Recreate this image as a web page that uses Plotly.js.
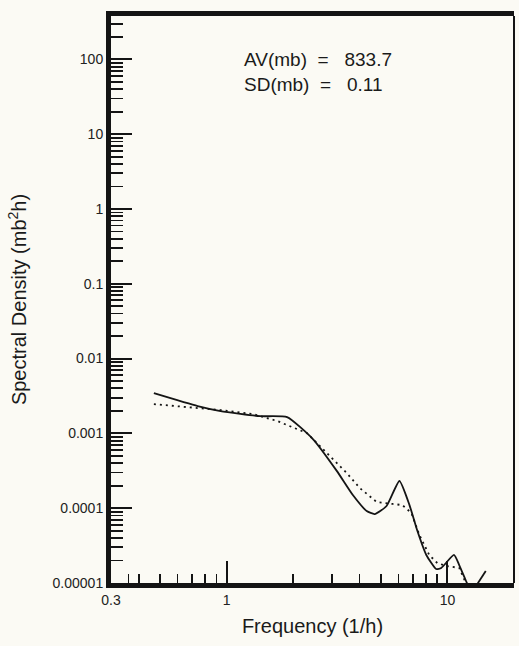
<!DOCTYPE html>
<html>
<head>
<meta charset="utf-8">
<script src="https://cdn.plot.ly/plotly-3.0.1.min.js"></script>
<style>
  html, body { margin: 0; padding: 0; background: #fbfaf4; }
  #chart { width: 519px; height: 646px; }
</style>
</head>
<body>
<div id="chart"></div>
<script>
// Frequency (1/h) and spectral density (mb^2 h)
const solidFreq    = [0.469, 0.74, 0.94, 1.42, 1.88, 2.46, 3.16, 3.73, 4.31, 4.68, 5.30, 6.06, 6.73, 7.31, 8.02, 8.89, 9.37, 10.7, 11.3, 12.1, 12.4, null, 13.3, 14.9];
const solidDensity = [0.00345, 0.00232, 0.00199, 0.00170, 0.00165, 0.00084, 0.000313, 0.000150, 0.0000916, 0.0000836, 0.000107, 0.000231, 0.000110, 0.0000495, 0.0000237, 0.0000154, 0.0000159, 0.0000237, 0.0000174, 0.0000108, 0.0000092, null, 0.0000086, 0.0000145];

const dottedFreq    = [0.469, 0.94, 1.32, 1.70, 2.31, 2.85, 3.50, 4.01, 4.78, 5.64, 6.25, 6.87, 7.46, 8.27, 8.99, 9.87, 11.3, 12.0, 12.3];
const dottedDensity = [0.00246, 0.00205, 0.00181, 0.00146, 0.00101, 0.000546, 0.000295, 0.000186, 0.000121, 0.000114, 0.000110, 0.0000861, 0.0000438, 0.0000237, 0.0000185, 0.0000169, 0.0000159, 0.0000106, 0.0000092];

const yTickVals = [0.00001, 0.0001, 0.001, 0.01, 0.1, 1, 10, 100];
const yTickText = ["0.00001", "0.0001", "0.001", "0.01", "0.1", "1", "10", "100"];
const xTickVals = [0.3, 1, 10];
const xTickText = ["0.3", "1", "10"];
const xMinorVals = [0.36, 0.4, 0.5, 0.6, 0.7, 0.8, 0.9, 2, 3, 4, 5, 6, 7, 8, 9];
const statLines = ["AV(mb)&nbsp;&nbsp;=&nbsp;&nbsp;&nbsp;833.7", "SD(mb)&nbsp;&nbsp;=&nbsp;&nbsp;&nbsp;0.11"];

// minor y ticks at 2..9 of every decade
const yMinorVals = [];
for (let e = -5; e <= 2; e++) {
  for (let m = 2; m <= 9; m++) yMinorVals.push(m * Math.pow(10, e));
}

const ink = '#141414';
const font = 'Liberation Sans, Arial, Helvetica, sans-serif';

const traces = [
  {
    x: solidFreq, y: solidDensity, type: 'scatter', mode: 'lines',
    line: { color: ink, width: 1.8, shape: 'spline', smoothing: 0.5 }, connectgaps: false, hoverinfo: 'skip'
  },
  {
    x: dottedFreq, y: dottedDensity, type: 'scatter', mode: 'lines',
    line: { color: ink, width: 1.8, dash: '2px,4px' }, hoverinfo: 'skip'
  }
];

const layout = {
  width: 519, height: 646,
  margin: { l: 111, r: 5, t: 16, b: 63 },
  paper_bgcolor: '#fbfaf4', plot_bgcolor: '#fbfaf4',
  showlegend: false,
  font: { family: font, color: '#222' },
  xaxis: {
    type: 'log',
    range: [Math.log10(0.3), Math.log10(20)],
    tickmode: 'array', tickvals: xTickVals, ticktext: xTickText,
    ticks: 'inside', ticklen: 22, tickwidth: 2, tickcolor: ink,
    minor: { tickmode: 'array', tickvals: xMinorVals, ticks: 'inside', ticklen: 9, tickwidth: 1.8, tickcolor: ink, showgrid: false },
    showgrid: false, zeroline: false,
    showline: true, linewidth: 5, linecolor: ink, mirror: true,
    tickfont: { size: 14, family: font, color: '#222' },
    title: { text: 'Frequency (1/h)', font: { size: 20, family: font, color: '#1a1a1a' }, standoff: 14 }
  },
  yaxis: {
    type: 'log',
    range: [-5, 2.58],
    tickmode: 'array', tickvals: yTickVals, ticktext: yTickText,
    ticks: 'inside', ticklen: 21, tickwidth: 2, tickcolor: ink,
    minor: { tickmode: 'array', tickvals: yMinorVals, ticks: 'inside', ticklen: 12, tickwidth: 1.8, tickcolor: ink, showgrid: false },
    showgrid: false, zeroline: false,
    showline: true, linewidth: 5, linecolor: ink, mirror: false,
    tickfont: { size: 14, family: font, color: '#222' },
    title: { text: 'Spectral Density (mb<sup>2</sup>h)', font: { size: 20, family: font, color: '#1a1a1a' }, standoff: 22 }
  },
  shapes: [
    { type: 'line', xref: 'paper', yref: 'paper', x0: 1, x1: 1, y0: 0, y1: 1,
      line: { color: ink, width: 2 } }
  ],
  annotations: [
    { xref: 'paper', yref: 'paper', x: 0.325, y: 0.946, xanchor: 'left', yanchor: 'top',
      text: statLines.join('<br>'), align: 'left', showarrow: false,
      font: { size: 19, family: font, color: '#1a1a1a' } }
  ]
};

Plotly.newPlot('chart', traces, layout, { staticPlot: true, displayModeBar: false });
</script>
</body>
</html>
